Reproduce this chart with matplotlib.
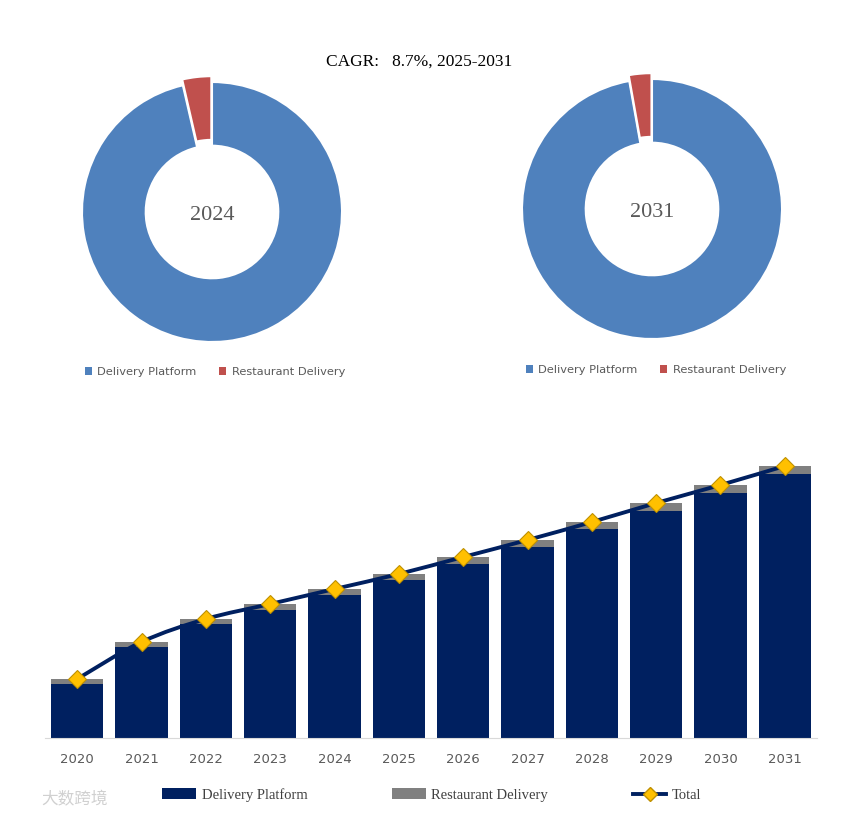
import numpy as np
import matplotlib.pyplot as plt
from matplotlib.patches import Patch, PathPatch
from matplotlib.lines import Line2D
from matplotlib.path import Path

# donut shares (%)
share_labels = ['Delivery Platform', 'Restaurant Delivery']
share_2024 = [96.4, 3.6]
share_2031 = [97.2, 2.8]

# stacked bars (relative market size)
years = ['2020', '2021', '2022', '2023', '2024', '2025',
         '2026', '2027', '2028', '2029', '2030', '2031']
platform = [54, 91, 114, 128, 143, 158, 174, 191, 209, 227, 245, 264]
restaurant = [5, 5, 5, 6, 6, 6, 7, 7, 7, 8, 8, 8]
total = [p + r for p, r in zip(platform, restaurant)]

cagr_text = 'CAGR:   8.7%, 2025-2031'

blue = '#4F81BD'
red = '#C0504D'
navy = '#002060'
gray = '#808080'
gold = '#FFC000'
txt = '#595959'
serif = 'Liberation Serif'

W, H = 845, 817
fig = plt.figure(figsize=(W / 100, H / 100), dpi=100)


def px_axes(cx, cy, r):
    return fig.add_axes([(cx - r) / W, 1 - (cy + r) / H, 2 * r / W, 2 * r / H])


def donut(cx, cy, vals, label):
    R = 130 * 1.1
    ax = px_axes(cx, cy, R)
    ax.pie(vals, colors=[blue, red], startangle=90, counterclock=False,
           explode=[0, 0.045], radius=1,
           wedgeprops=dict(width=0.49, edgecolor='white', linewidth=1.5))
    ax.set_xlim(-1.1, 1.1)
    ax.set_ylim(-1.1, 1.1)
    ax.set_aspect('equal')
    ax.axis('off')
    ax.text(0, -0.03, label, ha='center', va='center', fontsize=16,
            color=txt, family=serif)


donut(212, 212, share_2024, '2024')
donut(652, 209, share_2031, '2031')

fig.text(419 / W, 1 - 62 / H, cagr_text, ha='center', va='center',
         fontsize=12.5, family=serif, color='black')

handles = [Patch(facecolor=blue), Patch(facecolor=red)]
for x, y in [(215, 372), (656, 370)]:
    fig.legend(handles, share_labels, loc='center', bbox_to_anchor=(x / W, 1 - y / H),
               ncol=2, frameon=False, fontsize=8.2, labelcolor=txt,
               handlelength=0.6, handleheight=0.6, handletextpad=0.5,
               columnspacing=2.0)

# bar chart
ax = fig.add_axes([45 / W, 1 - 738 / H, 772 / W, 298 / H])
x = np.arange(len(years))
ax.bar(x, platform, width=0.81, color=navy)
ax.bar(x, restaurant, width=0.81, bottom=platform, color=gray)

# smoothed total line (Catmull-Rom as cubic Bezier)
pts = np.column_stack([x, total]).astype(float)
verts = [pts[0]]
codes = [Path.MOVETO]
for i in range(len(pts) - 1):
    p0 = pts[i - 1] if i > 0 else pts[i]
    p1, p2 = pts[i], pts[i + 1]
    p3 = pts[i + 2] if i + 2 < len(pts) else pts[i + 1]
    verts += [p1 + (p2 - p0) / 6, p2 - (p3 - p1) / 6, p2]
    codes += [Path.CURVE4] * 3
ax.add_patch(PathPatch(Path(verts, codes), facecolor='none', edgecolor=navy,
                       lw=2.8, zorder=3))
ax.plot(x, total, linestyle='none', marker='D', markersize=9.5,
        markerfacecolor=gold, markeredgecolor='#BF9000', markeredgewidth=0.8,
        zorder=4)

ax.set_xlim(-0.5, len(years) - 0.5)
ax.set_ylim(0, 298)
ax.set_xticks(x)
ax.set_xticklabels(years, fontsize=9.5, color=txt)
ax.tick_params(axis='x', length=0, pad=11)
ax.set_yticks([])
for s in ['top', 'right', 'left']:
    ax.spines[s].set_visible(False)
ax.spines['bottom'].set_color('#D9D9D9')

leg_handles = [Patch(facecolor=navy), Patch(facecolor=gray),
               Line2D([], [], color=navy, lw=2.8, marker='D', markersize=7.5,
                      markerfacecolor=gold, markeredgecolor='#BF9000')]
fig.legend(leg_handles, ['Delivery Platform', 'Restaurant Delivery', 'Total'],
           loc='center', bbox_to_anchor=(432 / W, 1 - 795 / H), ncol=3,
           frameon=False, prop={'family': serif, 'size': 10.5},
           labelcolor='#404040', handlelength=2.3, handleheight=0.8,
           handletextpad=0.4, columnspacing=5.8)

fig.text(75 / W, 1 - 800 / H, '大数跨境', ha='center', va='center', fontsize=12,
         color='#D0D0D0', family=['Noto Sans CJK SC', 'DejaVu Sans'])

fig.savefig('out.png', dpi=100)
